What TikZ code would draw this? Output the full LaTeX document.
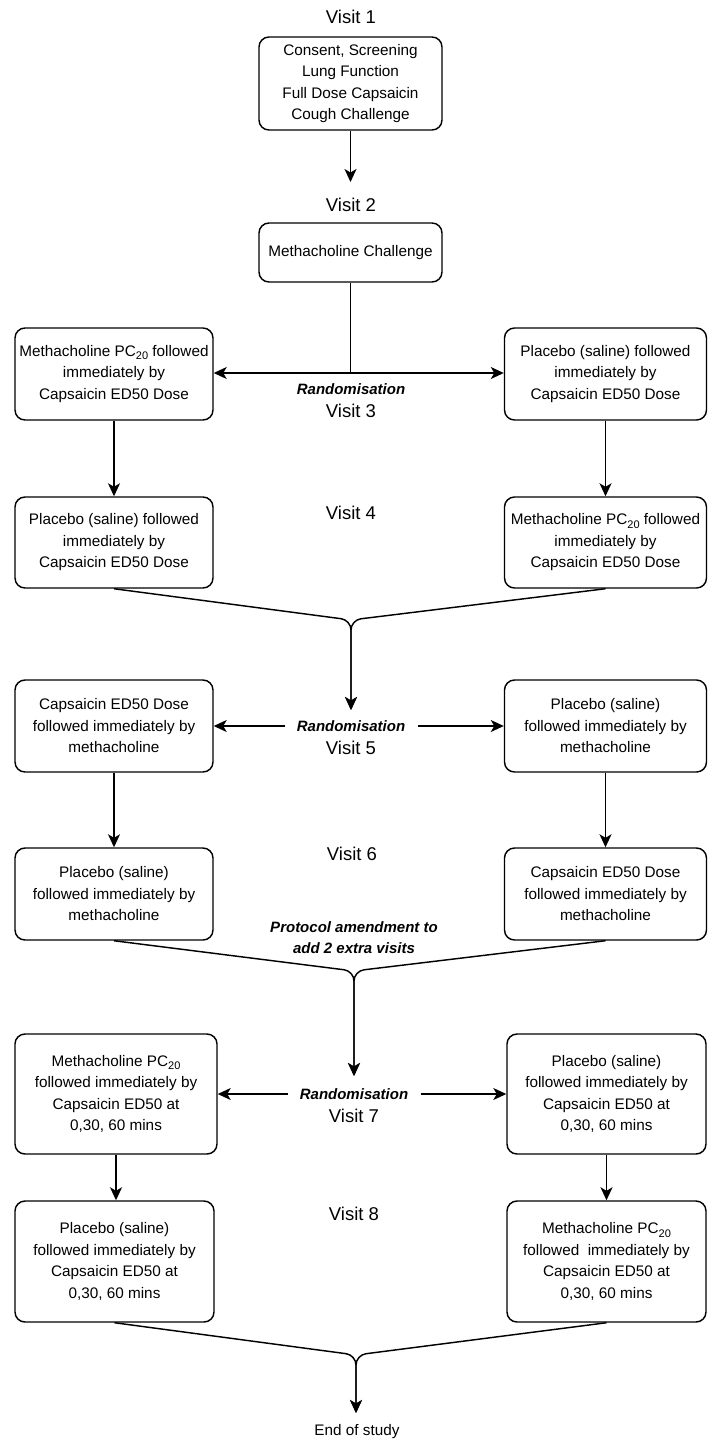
\documentclass[tikz,border=0pt]{standalone}
\usepackage{fontspec}
\setmainfont{Liberation Sans}
\usetikzlibrary{arrows.meta}
\newcommand{\pcsub}{\raisebox{-3.5pt}{\fontsize{11}{11}\selectfont 20}}
\begin{document}
\begin{tikzpicture}[x=1pt,y=-1pt, line width=1.45pt,
  font=\fontsize{15.3}{21.5}\selectfont,
  box/.style 2 args={draw, rounded corners=10pt, align=center, inner sep=0pt,
    minimum width=#1, minimum height=#2},
  vis/.style={font=\fontsize{18.5}{20}\selectfont, inner sep=0pt},
  rand/.style={font=\fontsize{15}{21}\selectfont\bfseries\itshape, inner sep=0pt, align=center},
  arr/.style={-{Stealth[length=13pt,width=12pt,inset=3.5pt]}},
  merge/.style={arr, rounded corners=10pt}]
\useasboundingbox[fill=white] (0,0) rectangle (708,1441);

% Visit 1 / 2
\node[vis] (v1) at (351,17) {Visit 1};
\node[box={183pt}{93pt}] (b1) at (350.5,83.5) {Consent, Screening\\Lung Function\\Full Dose Capsaicin\\Cough Challenge};
\coordinate (e1) at (350.5,182);
\node[vis] (v2) at (351,205) {Visit 2};
\node[box={183pt}{59pt}] (b2) at (350.5,252.5) {Methacholine Challenge};

% Visit 3
\node[box={198pt}{92pt}] (b3l) at (114,374) {Methacholine PC\pcsub{} followed\\immediately by\\Capsaicin ED50 Dose};
\node[box={202pt}{92pt}] (b3r) at (605.5,374) {Placebo (saline) followed\\immediately by\\Capsaicin ED50 Dose};
\coordinate (j3) at (350.5,373);
\node[rand] (r3) at (351,389) {Randomisation};
\node[vis] (v3) at (351,411) {Visit 3};

% Visit 4
\node[vis] (v4) at (351,513) {Visit 4};
\node[box={198pt}{91pt}] (b4l) at (114,542.5) {Placebo (saline) followed\\immediately by\\Capsaicin ED50 Dose};
\node[box={202pt}{91pt}] (b4r) at (605.5,542.5) {Methacholine PC\pcsub{} followed\\immediately by\\Capsaicin ED50 Dose};
\coordinate (m4) at (351,620);
\coordinate (t5) at (351,710);

% Visit 5
\node[box={198pt}{92pt}] (b5l) at (114,726) {Capsaicin ED50 Dose\\followed immediately by\\methacholine};
\node[box={202pt}{92pt}] (b5r) at (605.5,726) {Placebo (saline)\\followed immediately by\\methacholine};
\node[rand] (r5) at (351,726) {Randomisation};
\node[vis] (v5) at (351,748) {Visit 5};

% Visit 6
\node[vis] (v6) at (352,854) {Visit 6};
\node[box={198pt}{92pt}] (b6l) at (114,894) {Placebo (saline)\\followed immediately by\\methacholine};
\node[box={202pt}{92pt}] (b6r) at (605.5,894) {Capsaicin ED50 Dose\\followed immediately by\\methacholine};
\node[rand] (pa) at (354,937.5) {Protocol amendment to\\add 2 extra visits};
\coordinate (m6) at (354,971);
\coordinate (t7) at (354,1076);

% Visit 7
\node[box={202pt}{120pt}] (b7l) at (116,1094) {Methacholine PC\pcsub\\followed immediately by\\Capsaicin ED50 at\\0,30, 60 mins};
\node[box={199pt}{120pt}] (b7r) at (606.5,1094) {Placebo (saline)\\followed immediately by\\Capsaicin ED50 at\\0,30, 60 mins};
\node[rand] (r7) at (354,1094) {Randomisation};
\node[vis] (v7) at (354,1116) {Visit 7};

% Visit 8
\node[vis] (v8) at (354,1214) {Visit 8};
\node[box={199pt}{121pt}] (b8l) at (114.5,1261.5) {Placebo (saline)\\followed immediately by\\Capsaicin ED50 at\\0,30, 60 mins};
\node[box={199pt}{121pt}] (b8r) at (606.5,1261.5) {Methacholine PC\pcsub\\followed\ \ immediately by\\Capsaicin ED50 at\\0,30, 60 mins};
\coordinate (m8) at (356,1355);
\coordinate (t9) at (356,1413);
\node[inner sep=0pt] (end) at (357,1432) {End of study};

% connectors
\draw[arr] (b1.south) -- (e1);
\draw (b2.south) -- (j3);
\draw[arr] (j3) -- (b3l.east |- j3);
\draw[arr] (j3) -- (b3r.west |- j3);
\draw[arr] (b3l.south) -- (b4l.north);
\draw[arr] (b3r.south) -- (b4r.north);
\draw[merge] (b4l.south) -- (m4) -- (t5);
\draw[merge] (b4r.south) -- (m4) -- (t5);
\draw[arr, shorten <=11pt] (r5.west) -- (b5l.east |- r5.west);
\draw[arr, shorten <=12pt] (r5.east) -- (b5r.west |- r5.east);
\draw[arr] (b5l.south) -- (b6l.north);
\draw[arr] (b5r.south) -- (b6r.north);
\draw[merge] (b6l.south) -- (m6) -- (t7);
\draw[merge] (b6r.south) -- (m6) -- (t7);
\draw[arr, shorten <=11pt] (r7.west) -- (b7l.east |- r7.west);
\draw[arr, shorten <=12pt] (r7.east) -- (b7r.west |- r7.east);
\draw[arr] (b7l.south) -- (b7l.south |- b8l.north);
\draw[arr] (b7r.south) -- (b7r.south |- b8r.north);
\draw[merge] (b8l.south) -- (m8) -- (t9);
\draw[merge] (b8r.south) -- (m8) -- (t9);
\end{tikzpicture}
\end{document}
